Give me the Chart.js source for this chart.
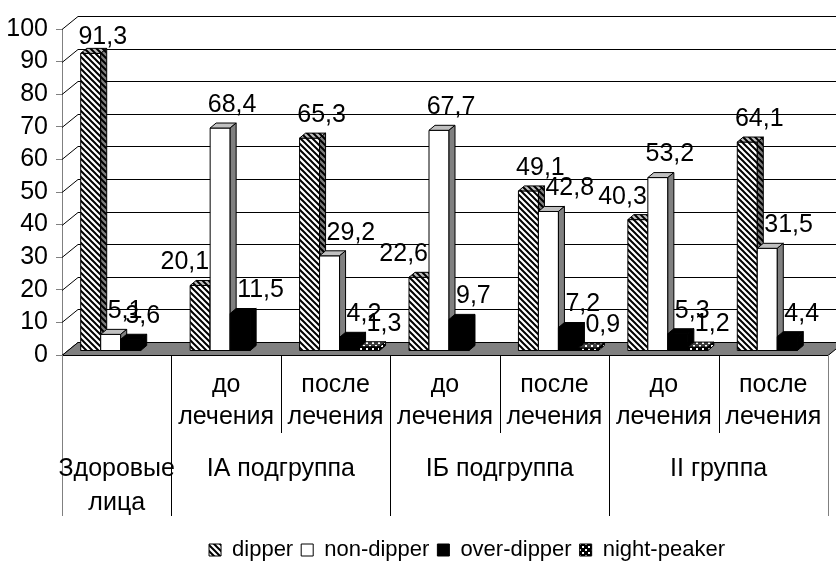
<!DOCTYPE html>
<html>
<head>
<meta charset="utf-8">
<script src="https://cdn.jsdelivr.net/npm/chart.js@4.4.1/dist/chart.umd.min.js"></script>
<style>
  html, body { margin: 0; padding: 0; background: #fff; }
  canvas { display: block; }
</style>
</head>
<body>
<canvas id="chart" width="836" height="571"></canvas>
<script>
// Типы суточного профиля АД по группам, %
const categories = ['Здоровые лица', 'IA до лечения', 'IA после лечения', 'IБ до лечения',
                    'IБ после лечения', 'II до лечения', 'II после лечения'];
const subLabels = [null, ['до', 'лечения'], ['после', 'лечения'], ['до', 'лечения'],
                   ['после', 'лечения'], ['до', 'лечения'], ['после', 'лечения']];
const groups = [
  { text: ['Здоровые', 'лица'], first: 0, last: 0 },
  { text: ['IA подгруппа'], first: 1, last: 2 },
  { text: ['IБ подгруппа'], first: 3, last: 4 },
  { text: ['II группа'], first: 5, last: 6 }
];
const seriesNames = ['dipper', 'non-dipper', 'over-dipper', 'night-peaker'];
const dipper      = [91.3, 20.1, 65.3, 22.6, 49.1, 40.3, 64.1];
const nonDipper   = [5.1, 68.4, 29.2, 67.7, 42.8, 53.2, 31.5];
const overDipper  = [3.6, 11.5, 4.2, 9.7, 7.2, 5.3, 4.4];
const nightPeaker = [null, null, 1.3, null, 0.9, 1.2, null];
const yMin = 0, yMax = 100, yStep = 10;

const FONT = '"Liberation Sans", Arial, sans-serif';
const TEXT_SIZE = 25;
const WALL = { dx: 16, dy: -13 };   // depth of floor and side wall
const LIFT = { dx: 4, dy: -4 };     // columns stand in the middle of the floor
const DEPTH = { dx: 6, dy: -5 };    // depth of a column
const LEGEND_SHIFT = 53;            // legend sits under the plot body, right of centre

function tile(size, paint) {
  const c = document.createElement('canvas');
  c.width = c.height = size;
  const g = c.getContext('2d');
  paint(g, size);
  return g.createPattern(c, 'repeat');
}
function hatch(bg) {
  return tile(6, (g, s) => {
    g.fillStyle = bg; g.fillRect(0, 0, s, s);
    g.strokeStyle = '#000'; g.lineWidth = 2;
    g.beginPath();
    g.moveTo(-1, -1); g.lineTo(s + 1, s + 1);
    g.moveTo(-1, s - 1); g.lineTo(1, s + 1);
    g.moveTo(s - 1, -1); g.lineTo(s + 1, 1);
    g.stroke();
  });
}
function confetti(bg) {
  return tile(6, (g, s) => {
    g.fillStyle = bg; g.fillRect(0, 0, s, s);
    g.fillStyle = '#fff';
    g.fillRect(0, 0, 2, 2); g.fillRect(3, 3, 2, 2);
  });
}
const faces = [
  { front: hatch('#fff'), top: hatch('#c0c0c0'), side: hatch('#808080') },
  { front: '#fff', top: '#c0c0c0', side: '#808080' },
  { front: '#000', top: '#000', side: '#000' },
  { front: confetti('#000'), top: confetti('#404040'), side: confetti('#000') }
];

const fmt = v => v.toFixed(1).replace('.', ',');

function columnGeom(chart, d, i) {
  if (d < 0 || d >= chart.data.datasets.length) return null;
  const v = chart.data.datasets[d].data[i];
  if (v === null || v === undefined) return null;
  const p = chart.getDatasetMeta(d).data[i].getProps(['x', 'y', 'base', 'width'], true);
  const l = p.x - p.width / 2 + LIFT.dx;
  return { v, l, r: l + p.width, top: p.y + LIFT.dy, bottom: p.base + LIFT.dy };
}

function drawColumn(ctx, g, f) {
  const { dx, dy } = DEPTH;
  ctx.lineWidth = 1;
  ctx.strokeStyle = '#000';
  ctx.beginPath();
  ctx.rect(g.l, g.top, g.r - g.l, g.bottom - g.top);
  ctx.fillStyle = f.front; ctx.fill(); ctx.stroke();
  ctx.beginPath();
  ctx.moveTo(g.l, g.top); ctx.lineTo(g.l + dx, g.top + dy);
  ctx.lineTo(g.r + dx, g.top + dy); ctx.lineTo(g.r, g.top); ctx.closePath();
  ctx.fillStyle = f.top; ctx.fill(); ctx.stroke();
  ctx.beginPath();
  ctx.moveTo(g.r, g.top); ctx.lineTo(g.r + dx, g.top + dy);
  ctx.lineTo(g.r + dx, g.bottom + dy); ctx.lineTo(g.r, g.bottom); ctx.closePath();
  ctx.fillStyle = f.side; ctx.fill(); ctx.stroke();
}

const scene3d = {
  id: 'scene3d',
  afterLayout(chart) {
    const lg = chart.legend;
    if (lg) { lg.left += LEGEND_SHIFT; lg.right += LEGEND_SHIFT; }
  },
  beforeDraw(chart) {
    const { ctx } = chart;
    ctx.save();
    ctx.fillStyle = '#fff';
    ctx.fillRect(0, 0, chart.width, chart.height);
    ctx.restore();
  },
  beforeDatasetsDraw(chart) {
    const { ctx, chartArea: a } = chart;
    const y = chart.scales.y;
    ctx.save();
    ctx.strokeStyle = '#000';
    ctx.lineWidth = 1;
    y.ticks.forEach(t => {
      const py = Math.round(y.getPixelForValue(t.value)) + 0.5;
      ctx.beginPath();
      ctx.moveTo(a.left, py);
      ctx.lineTo(a.left + WALL.dx, py + WALL.dy);
      ctx.lineTo(chart.width, py + WALL.dy);
      ctx.stroke();
    });
    const b = Math.round(y.getPixelForValue(0)) + 0.5;
    ctx.beginPath();
    ctx.moveTo(a.left, b); ctx.lineTo(a.right, b);
    ctx.lineTo(a.right + WALL.dx, b + WALL.dy); ctx.lineTo(a.left + WALL.dx, b + WALL.dy);
    ctx.closePath();
    ctx.fillStyle = '#808080'; ctx.fill(); ctx.stroke();
    ctx.restore();
  },
  afterDatasetsDraw(chart) {
    const { ctx, chartArea: a } = chart;
    const n = chart.data.labels.length;
    const m = chart.data.datasets.length;
    ctx.save();
    for (let i = 0; i < n; i++) {
      for (let d = 0; d < m; d++) {
        const g = columnGeom(chart, d, i);
        if (g) drawColumn(ctx, g, faces[d]);
      }
    }
    // value labels, nudged sideways off neighbouring taller columns
    ctx.font = `${TEXT_SIZE}px ${FONT}`;
    ctx.fillStyle = '#000';
    ctx.textAlign = 'center';
    ctx.textBaseline = 'middle';
    for (let i = 0; i < n; i++) {
      for (let d = 0; d < m; d++) {
        const g = columnGeom(chart, d, i);
        if (!g) continue;
        const text = fmt(g.v);
        const tw = ctx.measureText(text).width;
        let cx = (g.l + g.r) / 2 + 12;
        const cy = Math.max(g.top - 23, a.top + 8);
        const next = columnGeom(chart, d + 1, i);
        const prev = columnGeom(chart, d - 1, i);
        if (next && next.top < cy + 9 && cx + tw / 2 > next.l - 1) {
          cx = next.l - 1 - tw / 2;
        } else if (prev && prev.top + DEPTH.dy < cy + 9 && cx - tw / 2 < prev.r + DEPTH.dx + 1) {
          cx = prev.r + DEPTH.dx + 1 + tw / 2;
        }
        ctx.fillText(text, cx, cy);
      }
    }
    ctx.restore();
  },
  afterDraw(chart) {
    const { ctx, chartArea: a } = chart;
    const x = chart.scales.x;
    const n = chart.data.labels.length;
    const half = (x.getPixelForValue(1) - x.getPixelForValue(0)) / 2;
    const edge = k => k < n ? x.getPixelForValue(k) - half : x.getPixelForValue(n - 1) + half;
    const b = a.bottom;
    const groupEdges = new Set();
    groups.forEach(gr => { groupEdges.add(gr.first); groupEdges.add(gr.last + 1); });
    ctx.save();
    ctx.lineWidth = 1;
    for (let k = 0; k <= n; k++) {
      const px = Math.round(edge(k)) + 0.5;
      const long = groupEdges.has(k);
      ctx.strokeStyle = (k === 0 || k === n) ? '#808080' : '#000';
      ctx.beginPath();
      ctx.moveTo(px, b);
      ctx.lineTo(px, b + (long ? 161 : 78));
      ctx.stroke();
    }
    ctx.font = `${TEXT_SIZE}px ${FONT}`;
    ctx.fillStyle = '#000';
    ctx.textAlign = 'center';
    ctx.textBaseline = 'alphabetic';
    subLabels.forEach((lines, i) => {
      if (!lines) return;
      const cx = x.getPixelForValue(i);
      lines.forEach((t, j) => ctx.fillText(t, cx, b + 37 + j * 32));
    });
    groups.forEach(gr => {
      const cx = (edge(gr.first) + edge(gr.last + 1)) / 2;
      gr.text.forEach((t, j) => ctx.fillText(t, cx, b + 121 + j * 34));
    });
    ctx.restore();
  }
};

const seriesData = [dipper, nonDipper, overDipper, nightPeaker];

new Chart(document.getElementById('chart'), {
  type: 'bar',
  data: {
    labels: categories,
    datasets: seriesNames.map((name, d) => ({
      label: name,
      data: seriesData[d],
      backgroundColor: 'rgba(0,0,0,0)',
      borderWidth: 0,
      categoryPercentage: 0.731,
      barPercentage: 1
    }))
  },
  options: {
    responsive: false,
    animation: false,
    events: [],
    layout: { padding: { top: 29, right: 8, left: 0, bottom: 0 } },
    scales: {
      x: {
        type: 'category',
        offset: true,
        grid: { display: false },
        border: { display: false },
        ticks: { display: false },
        afterFit: s => { s.height = 176; }
      },
      y: {
        min: yMin,
        max: yMax,
        ticks: {
          stepSize: yStep, autoSkip: false, padding: 8, color: '#000',
          font: { size: TEXT_SIZE, family: FONT }
        },
        grid: { drawOnChartArea: false, drawTicks: true, tickLength: 6, color: '#808080' },
        border: { display: true, color: '#808080' },
        afterFit: s => { s.width = 62; }
      }
    },
    plugins: {
      tooltip: { enabled: false },
      legend: {
        position: 'bottom',
        labels: {
          boxWidth: 12,
          boxHeight: 12,
          padding: 8,
          color: '#000',
          font: { size: 22, family: FONT },
          generateLabels: () => seriesNames.map((name, d) => ({
            text: name,
            fillStyle: faces[d].front,
            strokeStyle: '#000',
            lineWidth: 1,
            hidden: false,
            datasetIndex: d
          }))
        }
      }
    }
  },
  plugins: [scene3d]
});
</script>
</body>
</html>
